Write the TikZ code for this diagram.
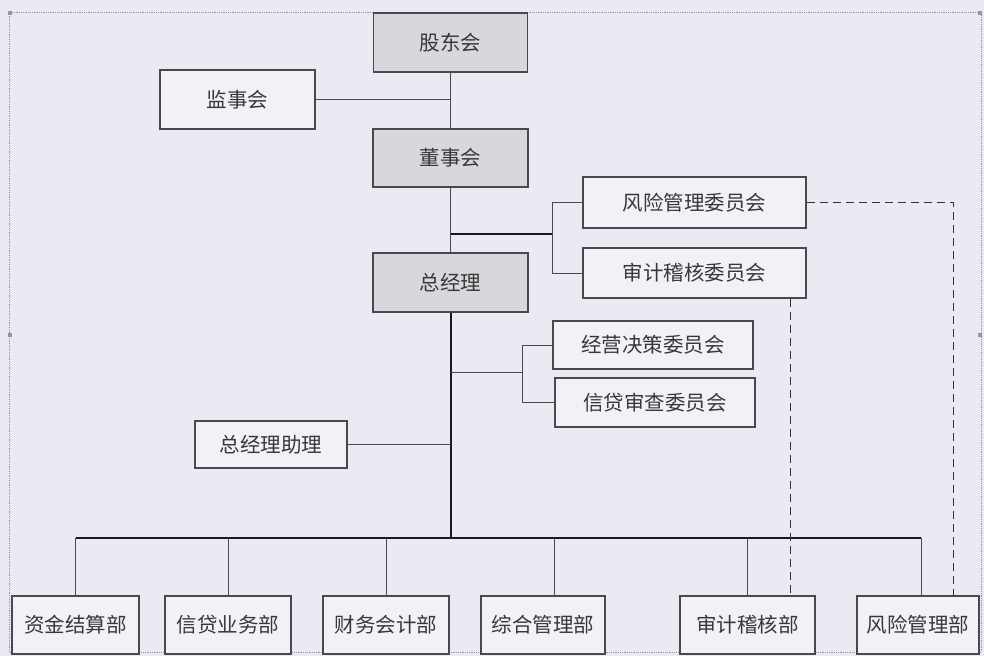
\documentclass[tikz,border=0pt]{standalone}
\usepackage{fontspec}
\setmainfont{Noto Sans CJK SC}
\usetikzlibrary{calc}
\definecolor{bg}{RGB}{234,235,242}
\definecolor{boxgray}{RGB}{216,216,220}
\definecolor{boxwhite}{RGB}{241,241,246}
\definecolor{linec}{RGB}{72,72,78}
\definecolor{framec}{RGB}{150,150,158}
\begin{document}
\begin{tikzpicture}[x=1pt,y=-1pt,
  box/.style={draw=linec, line width=1.2pt, fill=boxwhite, inner sep=0pt,
    font=\fontsize{20.5}{24}\selectfont, text=black!78},
  gbox/.style={box, fill=boxgray},
  conn/.style={draw=linec, line width=1pt},
  mainline/.style={draw=black!90, line width=2pt},
  dashconn/.style={draw=black!80, line width=1pt, dash pattern=on 8pt off 5pt},
  handle/.style={fill=framec, draw=none, minimum size=4pt, inner sep=0pt}]
\fill[bg] (0,0) rectangle (984,656);
\useasboundingbox (0,0) rectangle (984,656);
% frame of the canvas
\draw[framec, densely dotted, line width=0.8pt] (9,12) rectangle (981,652);
\node[handle] (h1) at (10,13) {};
\node[handle] (h2) at (495,15) {};
\node[handle] (h3) at (980,13) {};
\node[handle] (h4) at (10,335) {};
\node[handle] (h5) at (980,335) {};
\node[handle] (h6) at (500,652) {};
% nodes
\node[gbox, minimum width=154pt, minimum height=59pt] (gd) at (450.5,42.5) {股东会};
\node[box,  minimum width=155pt, minimum height=59pt] (jsh) at (237.5,99.5) {监事会};
\node[gbox, minimum width=155pt, minimum height=58pt] (dsh) at (450.5,158) {董事会};
\node[box,  minimum width=223pt, minimum height=51pt] (fxw) at (694.5,202.5) {风险管理委员会};
\node[box,  minimum width=223pt, minimum height=50pt] (sjw) at (694.5,273) {审计稽核委员会};
\node[gbox, minimum width=155pt, minimum height=59pt] (zjl) at (450.5,282.5) {总经理};
\node[box,  minimum width=200pt, minimum height=48pt] (jyw) at (653,345) {经营决策委员会};
\node[box,  minimum width=200pt, minimum height=49pt] (xdw) at (655,402.5) {信贷审查委员会};
\node[box,  minimum width=152pt, minimum height=47pt] (zl) at (271,444.5) {总经理助理};
\node[box, minimum width=127pt, minimum height=58pt] (zjjs) at (75.5,625) {资金结算部};
\node[box, minimum width=126pt, minimum height=58pt] (xdyw) at (228,625) {信贷业务部};
\node[box, minimum width=126pt, minimum height=58pt] (cwkj) at (386,625) {财务会计部};
\node[box, minimum width=124pt, minimum height=58pt] (zhgl) at (543,625) {综合管理部};
\node[box, minimum width=135pt, minimum height=58pt] (sjjh) at (747.5,625) {审计稽核部};
\node[box, minimum width=122pt, minimum height=58pt] (fxgl) at (918,625) {风险管理部};
% connectors
\coordinate (b1) at (450.5,234);
\coordinate (cb1) at (552,234);
\coordinate (b2) at (450.5,372);
\coordinate (cb2) at (522,372);
\coordinate (bus) at (450.5,538);
\draw[conn] (gd.south) -- (dsh.north);
\draw[conn] (jsh.east) -- (jsh.east -| gd.south);
\draw[conn] (dsh.south) -- (zjl.north);
\draw[mainline] (b1) -- (cb1);
\draw[conn] (cb1) |- (fxw.west);
\draw[conn] (cb1) |- (sjw.west);
\draw[mainline] (zjl.south) -- (bus);
\draw[conn] (b2) -- (cb2);
\draw[conn] (cb2) |- (jyw.west);
\draw[conn] (cb2) |- (xdw.west);
\draw[conn] (zl.east) -- (zl.east -| zjl.south);
\draw[mainline] (bus -| zjjs.north) -- ([xshift=3pt]fxgl.north |- bus);
\draw[conn] (zjjs.north) -- (zjjs.north |- bus);
\draw[conn] (xdyw.north) -- (xdyw.north |- bus);
\draw[conn] (cwkj.north) -- (cwkj.north |- bus);
\draw[conn] ([xshift=11pt]zhgl.north) -- ([xshift=11pt]zhgl.north |- bus);
\draw[conn] (sjjh.north) -- (sjjh.north |- bus);
\draw[conn] ([xshift=3pt]fxgl.north) -- ([xshift=3pt]fxgl.north |- bus);
\draw[dashconn] (fxw.east) -| ([xshift=35pt]fxgl.north);
\draw[dashconn] ([xshift=95.5pt]sjw.south) -- ([xshift=42.5pt]sjjh.north);
\end{tikzpicture}
\end{document}
